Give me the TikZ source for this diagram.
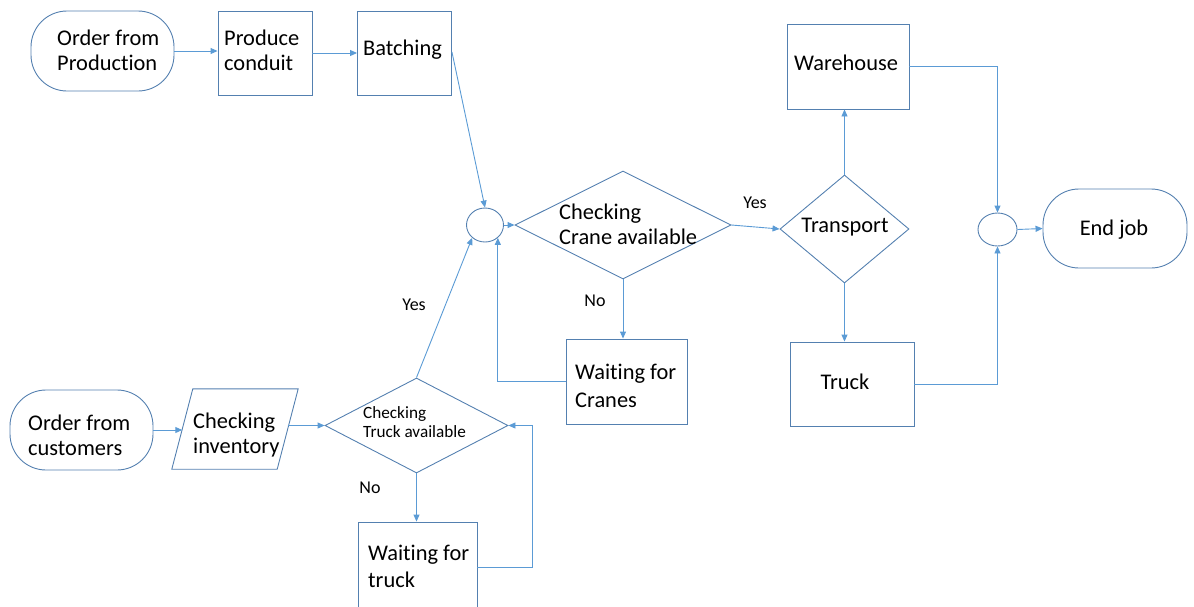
\documentclass[tikz,border=0pt]{standalone}
\usepackage{fontspec}
\setmainfont{Carlito}[Ligatures={NoCommon,NoRequired,NoContextual,NoRare}]
\usetikzlibrary{arrows.meta,shapes.geometric,calc}
\definecolor{shapeblue}{RGB}{84,128,176}
\definecolor{lineblue}{RGB}{91,155,213}
\begin{document}
\begin{tikzpicture}[x=1pt,y=1pt,
  shp/.style={draw=shapeblue, line width=0.9pt},
  box/.style={shp, rectangle, inner sep=0pt},
  stad/.style={shp, rectangle, rounded corners=36pt, inner sep=0pt},
  dia/.style={shp, diamond, inner sep=0pt},
  circ/.style={shp, ellipse, inner sep=0pt},
  conn/.style={draw=lineblue, line width=0.9pt, -{Triangle[length=7pt,width=6pt]}},
  txt/.style={font=\fontsize{22.4}{25}\selectfont, align=left, inner sep=0pt, anchor=west},
  ctxt/.style={font=\fontsize{22.4}{25}\selectfont, align=center, inner sep=0pt},
  small/.style={font=\fontsize{17.2}{19}\selectfont, align=left, inner sep=0pt, anchor=west},
  lab/.style={font=\fontsize{18}{20}\selectfont, inner sep=0pt}]
\path[use as bounding box] (0,0) rectangle (1194,-606);
\clip (0,0) rectangle (1194,-606);

% top row
\node[stad, minimum width=143, minimum height=80] (op) at (102.5,-51) {};
\node[txt] (opt) at (57,-50) {Order from\\Production};
\node[box, minimum width=94, minimum height=84] (pc) at (265,-53) {};
\node[txt] (pct) at (224,-50) {Produce\\conduit};
\node[box, minimum width=94, minimum height=84] (bat) at (404.5,-53) {};
\node[txt] (batt) at (363,-50) {Batching};

% crane decision
\node[circ, minimum width=37, minimum height=34] (c1) at (485,-225) {};
\node[dia, minimum width=216, minimum height=108] (crane) at (623,-225) {};
\node[txt] (cranet) at (559,-224) {Checking\\Crane available};
\node[box, minimum width=121, minimum height=85] (wc) at (626.5,-381.5) {};
\node[txt, font=\fontsize{22.4}{27.5}\selectfont] (wct) at (575,-386) {Waiting for\\Cranes};

% transport
\node[dia, minimum width=129, minimum height=108] (tr) at (844.5,-229) {};
\node[ctxt] (trt) at (845,-227) {Transport};
\node[box, minimum width=122, minimum height=85] (wh) at (848,-66.5) {};
\node[ctxt] (wht) at (846,-63) {Warehouse};
\node[box, minimum width=124, minimum height=84] (truck) at (852,-384) {};
\node[ctxt] (truckt) at (845,-382) {Truck};
\node[circ, minimum width=39, minimum height=33] (c2) at (997.5,-229.5) {};
\node[stad, minimum width=144, minimum height=79] (end) at (1115,-228.5) {};
\node[ctxt] (endt) at (1114,-230) {End job};

% bottom row
\node[stad, minimum width=143, minimum height=80] (oc) at (81.5,-430) {};
\node[txt] (oct) at (28,-435) {Order from\\customers};
\node[minimum width=126, minimum height=80, inner sep=0pt] (inv) at (235,-429) {};
\draw[shp] ($(inv.north west)+(21,0)$) -- (inv.north east) -- ($(inv.south east)+(-21,0)$) -- (inv.south west) -- cycle;
\coordinate (invL) at ($(inv.west)+(10.5,0)$);
\coordinate (invR) at ($(inv.east)+(-10.5,0)$);
\node[txt] (invt) at (193,-435) {Checking\\inventory};
\node[dia, minimum width=183, minimum height=95] (td) at (416.5,-425.5) {};
\node[small] (tdt) at (363,-422.5) {Checking\\Truck available};
\node[box, minimum width=119, minimum height=90] (wt) at (417.5,-567) {};
\node[txt, font=\fontsize{22.4}{27}\selectfont] (wtt) at (368,-566) {Waiting for\\truck};

% labels
\node[lab] (yes1) at (755,-203) {Yes};
\node[lab] (no1) at (595,-301) {No};
\node[lab] (yes2) at (414,-305) {Yes};
\node[lab] (no2) at (370,-488) {No};

% connectors
\draw[conn] (op.east) -- (op.east -| pc.west);
\draw[conn] (pc.east) -- (pc.east -| bat.west);
\draw[conn] ($(bat.east)+(0,1)$) -- (c1.north);
\draw[conn] (c1.east) -- (crane.west);
\draw[conn] (crane.east) -- (tr.west);
\draw[conn] (tr.north) -- (tr.north |- wh.south);
\draw[conn] (wh.east) -| (c2.north);
\draw[conn] (c2.east) -- (end.west);
\draw[conn] (tr.south) -- (tr.south |- truck.north);
\draw[conn] (truck.east) -| (c2.south);
\draw[conn] (crane.south) -- (crane.south |- wc.north);
\draw[conn] (wc.west) -| (c1.-45);
\draw[conn] (td.north) -- (c1.-135);
\draw[conn] (oc.east) -- (oc.east -| invL);
\draw[conn] (td.west -| invR) -- (td.west);
\draw[conn] (td.south) -- (td.south |- wt.north);
\draw[conn] (wt.east) -- ++(55,0) |- (td.east);
\end{tikzpicture}
\end{document}
